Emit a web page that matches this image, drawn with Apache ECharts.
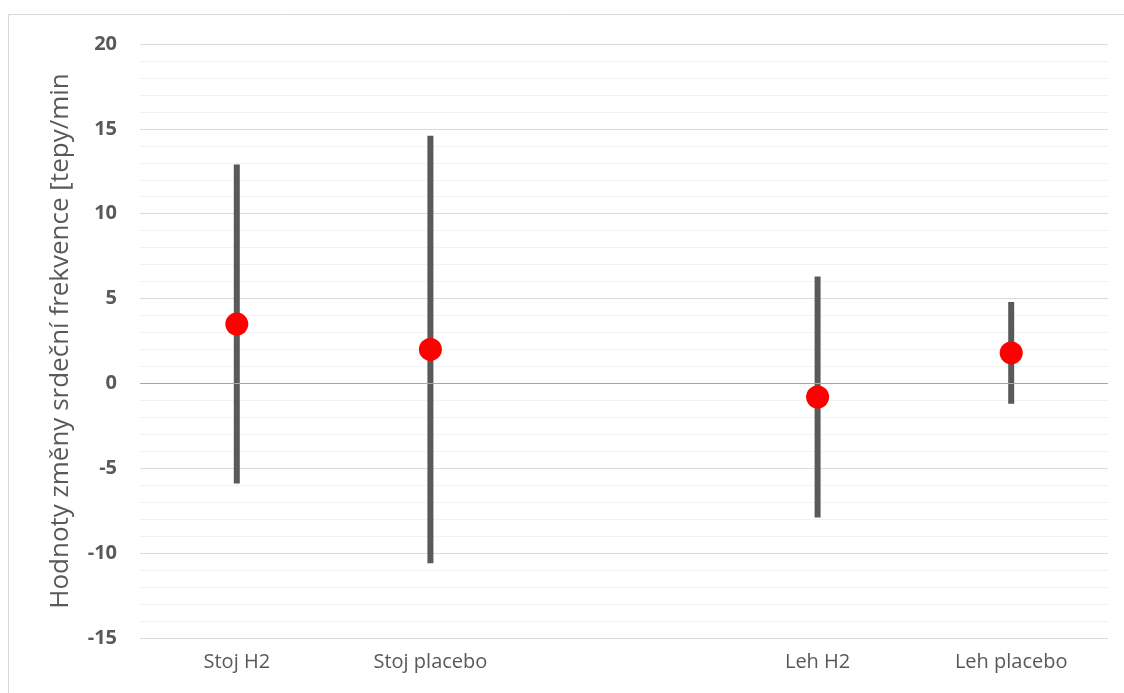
<!DOCTYPE html>
<html>
<head>
<meta charset="utf-8">
<script src="https://cdn.jsdelivr.net/npm/echarts@6/dist/echarts.min.js"></script>
<style>
html,body{margin:0;padding:0;background:#fff;}
#chart{width:1124px;height:693px;}
</style>
</head>
<body>
<div id="chart"></div>
<script>
var categories = ['Stoj H2', 'Stoj placebo', '', 'Leh H2', 'Leh placebo'];
var meanValues = [3.5, 2.0, null, -0.8, 1.8];
var upperValues = [12.9, 14.6, null, 6.3, 4.8];
var lowerValues = [-5.9, -10.6, null, -7.9, -1.2];
var yTicks = { min: -15, max: 20, interval: 5 };

var barData = [];
for (var i = 0; i < categories.length; i++) {
  if (meanValues[i] !== null) barData.push([i, lowerValues[i], upperValues[i]]);
}
var dotData = [];
for (var j = 0; j < categories.length; j++) {
  if (meanValues[j] !== null) dotData.push([j, meanValues[j]]);
}

var chart = echarts.init(document.getElementById('chart'), null, {renderer: 'canvas'});
chart.setOption({
  animation: false,
  backgroundColor: '#ffffff',
  graphic: [{
    type: 'rect',
    shape: {x: 8.5, y: 14.5, width: 1300, height: 1000},
    style: {fill: 'none', stroke: '#d9d9d9', lineWidth: 1},
    silent: true
  }],
  grid: {left: 140, right: 16, top: 44, bottom: 55},
  xAxis: {
    type: 'category',
    data: categories,
    axisLine: {show: false},
    axisTick: {show: false},
    splitLine: {show: false},
    axisLabel: {
      color: '#595959',
      fontFamily: 'Open Sans',
      fontSize: 20,
      margin: 14,
      interval: 0
    }
  },
  yAxis: {
    type: 'value',
    min: yTicks.min,
    max: yTicks.max,
    interval: yTicks.interval,
    name: 'Hodnoty změny srdeční frekvence [tepy/min',
    nameLocation: 'middle',
    nameGap: 66,
    nameRotate: 90,
    nameTextStyle: {color: '#595959', fontFamily: 'Open Sans', fontSize: 26},
    axisLine: {show: false},
    axisTick: {show: false},
    axisLabel: {
      color: '#595959',
      fontFamily: 'Open Sans',
      fontWeight: 'bold',
      fontSize: 20,
      margin: 23
    },
    splitLine: {show: true, lineStyle: {color: '#d9d9d9', width: 1}},
    minorTick: {show: false, splitNumber: 5},
    minorSplitLine: {show: true, lineStyle: {color: '#f2f2f2', width: 1}}
  },
  series: [{
    type: 'custom',
    data: barData,
    encode: {x: 0, y: [1, 2]},
    renderItem: function (params, api) {
      var x = api.value(0);
      var lo = api.coord([x, api.value(1)]);
      var hi = api.coord([x, api.value(2)]);
      return {
        type: 'line',
        shape: {x1: lo[0], y1: lo[1], x2: hi[0], y2: hi[1]},
        style: {stroke: '#595959', lineWidth: 6, lineCap: 'butt'}
      };
    },
    markLine: {
      silent: true,
      symbol: ['none', 'none'],
      label: {show: false},
      lineStyle: {color: '#a6a6a6', width: 1, type: 'solid'},
      data: [{yAxis: 0}]
    },
    z: 2
  }, {
    type: 'scatter',
    data: dotData,
    symbol: 'circle',
    symbolSize: 23,
    itemStyle: {color: '#ff0000', opacity: 1},
    z: 3
  }]
});
</script>
</body>
</html>
